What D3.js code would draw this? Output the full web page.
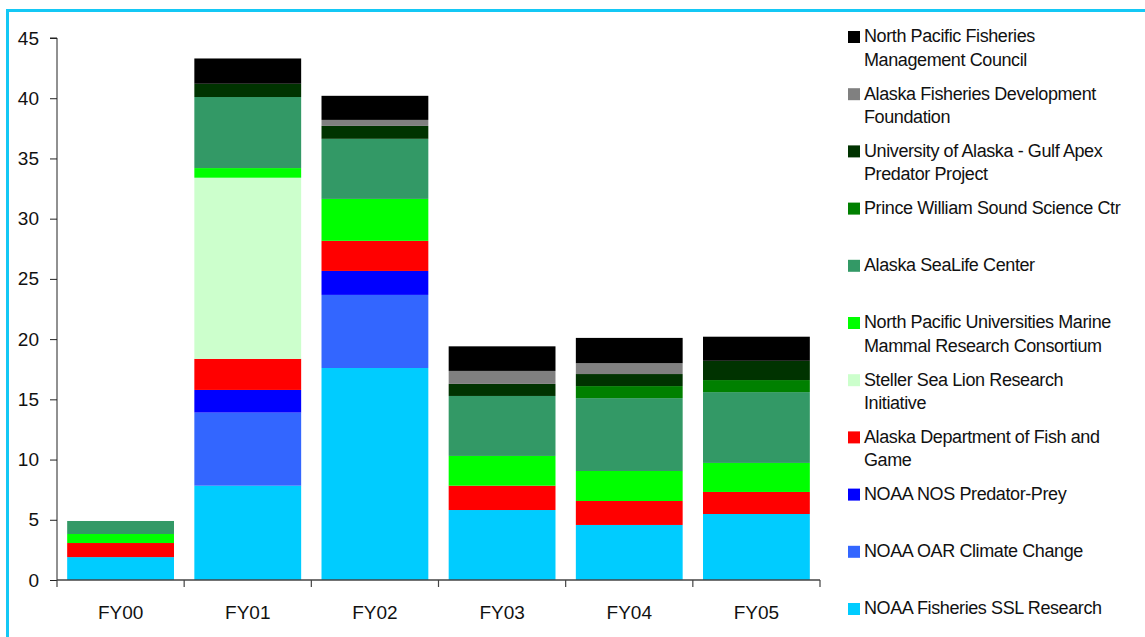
<!DOCTYPE html>
<html>
<head>
<meta charset="utf-8">
<script src="https://cdn.jsdelivr.net/npm/d3@7"></script>
<style>
  body { margin: 0; background: #fff; }
  svg { font-family: Arial, "Liberation Sans", sans-serif; }
</style>
</head>
<body>
<div id="chart"></div>
<script>
// chart size and plot area
const width = 1145;
const height = 637;
const margin = {left: 57, right: 325, top: 38, bottom: 57};

// fiscal years on the x axis
const years = ["FY00", "FY01", "FY02", "FY03", "FY04", "FY05"];

// funding per source, bottom of the stack first
const sslResearch  = [1.9, 7.83, 17.6, 5.81, 4.57, 5.48];
const oarClimate   = [0, 6.07, 6.07, 0, 0, 0];
const nosPredator  = [0, 1.88, 1.99, 0, 0, 0];
const adfg         = [1.17, 2.58, 2.5, 2.02, 1.99, 1.83];
const sslri        = [0, 15.04, 0, 0, 0, 0];
const npummrc      = [0.75, 0.8, 3.48, 2.47, 2.49, 2.41];
const sealife      = [1.08, 5.9, 4.99, 4.98, 6.05, 5.88];
const pwssc        = [0, 0, 0, 0, 1.0, 1.0];
const uaGap        = [0, 1.1, 1.07, 1.0, 1.0, 1.6];
const afdf         = [0, 0, 0.5, 1.08, 0.9, 0];
const npfmc        = [0, 2.1, 2.0, 2.04, 2.1, 2.0];

const yTicks = [0, 5, 10, 15, 20, 25, 30, 35, 40, 45];

const series = [
  {key: "ssl",   values: sslResearch, color: "#00ccff", label: ["NOAA Fisheries SSL Research"]},
  {key: "oar",   values: oarClimate,  color: "#3366ff", label: ["NOAA OAR Climate Change"]},
  {key: "nos",   values: nosPredator, color: "#0000ff", label: ["NOAA NOS Predator-Prey"]},
  {key: "adfg",  values: adfg,        color: "#ff0000", label: ["Alaska Department of Fish and", "Game"]},
  {key: "sslri", values: sslri,       color: "#ccffcc", label: ["Steller Sea Lion Research", "Initiative"]},
  {key: "npu",   values: npummrc,     color: "#00ff00", label: ["North Pacific Universities Marine", "Mammal Research Consortium"]},
  {key: "asc",   values: sealife,     color: "#339966", label: ["Alaska SeaLife Center"]},
  {key: "pws",   values: pwssc,       color: "#008000", label: ["Prince William Sound Science Ctr"]},
  {key: "ua",    values: uaGap,       color: "#003300", label: ["University of Alaska - Gulf Apex", "Predator Project"]},
  {key: "afdf",  values: afdf,        color: "#808080", label: ["Alaska Fisheries Development", "Foundation"]},
  {key: "npfmc", values: npfmc,       color: "#000000", label: ["North Pacific Fisheries", "Management Council"]}
];

// table for d3.stack
const table = years.map((y, i) => {
  const row = {year: y};
  series.forEach(s => { row[s.key] = s.values[i]; });
  return row;
});

const svg = d3.select("#chart")
  .append("svg")
  .attr("width", width)
  .attr("height", height);

// cyan frame (only top and left show in the picture)
svg.append("rect")
  .attr("x", 7.5).attr("y", 10.5)
  .attr("width", width + 20).attr("height", height + 20)
  .attr("fill", "none")
  .attr("stroke", "#14c8f5")
  .attr("stroke-width", 3);

const x = d3.scaleBand()
  .domain(years)
  .range([margin.left, width - margin.right])
  .paddingInner(0.16)
  .paddingOuter(0.08);

const y = d3.scaleLinear()
  .domain([0, 45])
  .range([height - margin.bottom, margin.top]);

const stacked = d3.stack().keys(series.map(s => s.key))(table);

svg.selectAll("g.layer")
  .data(stacked)
  .enter()
  .append("g")
    .attr("class", "layer")
    .attr("fill", (d, i) => series[i].color)
  .selectAll("rect")
  .data(d => d.filter(p => p[1] - p[0] > 0))
  .enter()
  .append("rect")
    .attr("x", d => x(d.data.year))
    .attr("y", d => y(d[1]))
    .attr("height", d => y(d[0]) - y(d[1]))
    .attr("width", x.bandwidth());

// y axis
const yAxis = svg.append("g")
  .attr("transform", `translate(${margin.left},0)`)
  .call(d3.axisLeft(y).tickValues(yTicks).tickSize(7).tickPadding(11));
yAxis.selectAll("text").attr("font-size", "19px").attr("fill", "#111");
yAxis.selectAll("line, path").attr("stroke", "#222");
yAxis.select(".domain").attr("d", `M-7,${y(45)}H0V${y(0)}`);

// x axis, labels centred, ticks on band edges
const xAxis = svg.append("g")
  .attr("transform", `translate(0,${y(0)})`)
  .call(d3.axisBottom(x).tickSize(0).tickPadding(26));
xAxis.selectAll("text").attr("font-size", "19px").attr("fill", "#111");
xAxis.select(".domain").attr("stroke", "#444").attr("stroke-width", 1.5)
  .attr("d", `M${margin.left},0H${x.range()[1]}`);

const step = x.step();
const edges = years.map(d => x(d) - step * x.paddingInner() / 2).concat([x.range()[1]]);
xAxis.selectAll("line.edge")
  .data(edges)
  .enter()
  .append("line")
    .attr("class", "edge")
    .attr("x1", d => d).attr("x2", d => d)
    .attr("y1", 0).attr("y2", 7)
    .attr("stroke", "#444")
    .attr("stroke-width", 1.2);

// legend, top entry is last series
const legendItems = series.slice().reverse();
const ly = d3.scaleLinear().domain([0, legendItems.length - 1]).range([36, 608]);

const legend = svg.append("g").attr("class", "legend");
const item = legend.selectAll("g")
  .data(legendItems)
  .enter()
  .append("g")
    .attr("transform", (d, i) => `translate(848,${ly(i)})`);

item.append("rect")
  .attr("x", 0).attr("y", -5)
  .attr("width", 12).attr("height", 12)
  .attr("fill", d => d.color);

item.append("text")
  .attr("x", 16)
  .attr("font-size", "18px")
  .attr("letter-spacing", "-0.4px")
  .attr("fill", "#111")
  .selectAll("tspan")
  .data(d => d.label)
  .enter()
  .append("tspan")
    .attr("x", 16)
    .attr("y", (d, i) => i * 23.5)
    .attr("dy", "0.35em")
    .text(d => d);
</script>
</body>
</html>
